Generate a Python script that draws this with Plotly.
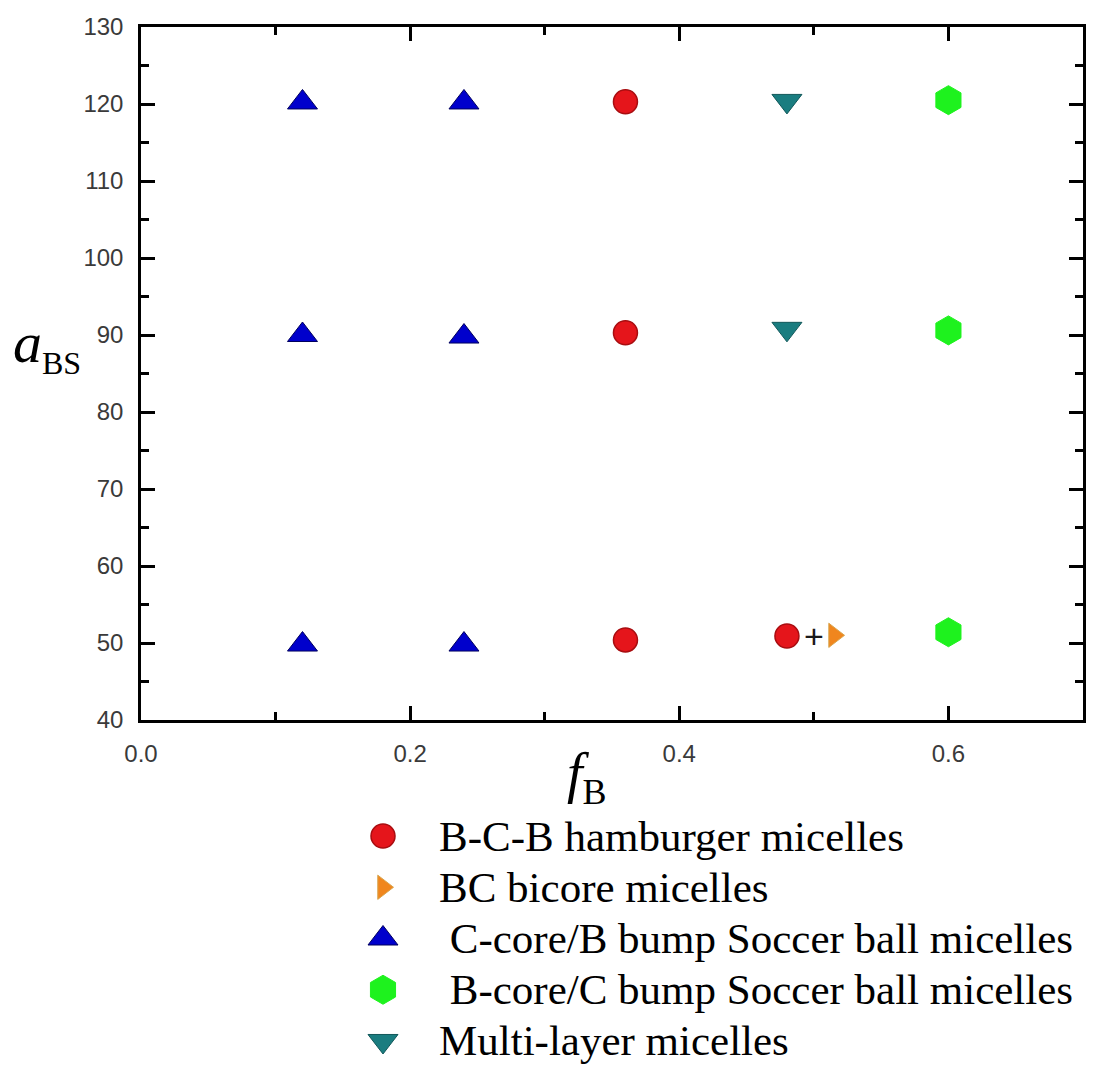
import plotly.graph_objects as go

# Phase points: volume fraction f_B against interaction parameter a_BS
hamburger_x = [0.36, 0.36, 0.36, 0.48]
hamburger_y = [120.3, 90.3, 50.4, 50.9]

bicore_x = [0.515]
bicore_y = [51.0]

ccore_x = [0.12, 0.24, 0.12, 0.24, 0.12, 0.24]
ccore_y = [120.2, 120.2, 90.0, 89.8, 49.8, 49.8]

bcore_x = [0.60, 0.60, 0.60]
bcore_y = [120.5, 90.6, 51.4]

multi_x = [0.48, 0.48]
multi_y = [120.4, 90.8]

# Mixed-phase marker between the hamburger and bicore points
mixed_x = [0.50]
mixed_y = [50.9]

series_names = [
    "B-C-B hamburger micelles",
    "BC bicore micelles",
    "\u00a0C-core/B bump Soccer ball micelles",
    "\u00a0B-core/C bump Soccer ball micelles",
    "Multi-layer micelles",
]

x_tick_vals = [0.0, 0.2, 0.4, 0.6]
x_tick_text = ["0.0", "0.2", "0.4", "0.6"]
y_tick_vals = [40, 50, 60, 70, 80, 90, 100, 110, 120, 130]

markers = [
    dict(symbol="circle", size=24, color="#e5151b", line=dict(color="#a80d10", width=1.5)),
    dict(symbol="triangle-right", size=21, color="#f0861e", line=dict(color="#d9a650", width=1)),
    dict(symbol="triangle-up", size=26, color="#0000cc", line=dict(color="#00005e", width=1)),
    dict(symbol="hexagon", size=29, color="#1ef21e", line=dict(color="#1ef21e", width=1)),
    dict(symbol="triangle-down", size=26, color="#1a7d80", line=dict(color="#12585a", width=1)),
]

series_xy = [
    (hamburger_x, hamburger_y),
    (bicore_x, bicore_y),
    (ccore_x, ccore_y),
    (bcore_x, bcore_y),
    (multi_x, multi_y),
]

W, H = 1107, 1086
serif = "Liberation Serif, Times New Roman, serif"
sans = "Liberation Sans, Arial, sans-serif"

fig = go.Figure()

for (xs, ys), mk, name in zip(series_xy, markers, series_names):
    fig.add_trace(go.Scatter(x=xs, y=ys, mode="markers", marker=mk, name=name,
                             showlegend=False, cliponaxis=False))

# Legend drawn as its own small panel: one row per category
for i, (mk, name) in enumerate(zip(markers, series_names)):
    fig.add_trace(go.Scatter(x=[0], y=[i], mode="markers", marker=mk,
                             xaxis="x2", yaxis="y2", showlegend=False, cliponaxis=False))

annotations = [
    dict(x=mixed_x[0], y=mixed_y[0], xref="x", yref="y", text="+", showarrow=False,
         font=dict(family=sans, size=34, color="#1a1a1a"), xanchor="center", yanchor="middle"),
    dict(x=11 / W, y=88.6, xref="paper", yref="y",
         text='<i>a</i><sub><span style="font-size:32px">BS</span></sub>', showarrow=False,
         font=dict(family=serif, size=58, color="black"), xanchor="left", yanchor="middle"),
    dict(x=565 / W, y=1 - 777 / H, xref="paper", yref="paper",
         text='<i>f</i><sub><span style="font-size:36px">B</span></sub>', showarrow=False,
         font=dict(family=serif, size=56, color="black"), xanchor="left", yanchor="middle"),
]
for i, name in enumerate(series_names):
    annotations.append(dict(x=0.95, y=i, xref="x2", yref="y2", text=name, showarrow=False,
                            font=dict(family=serif, size=43, color="black"),
                            xanchor="left", yanchor="middle"))

axis_common = dict(
    showline=True, linecolor="black", linewidth=2.5, mirror="allticks",
    ticks="inside", ticklen=14, tickwidth=2.5, tickcolor="black",
    showgrid=False, zeroline=False, automargin=False,
    tickfont=dict(family=sans, size=24, color="#3a3a3a"),
)

fig.update_layout(
    width=W, height=H,
    margin=dict(l=0, r=0, t=0, b=0, autoexpand=False),
    paper_bgcolor="white", plot_bgcolor="white",
    showlegend=False,
    xaxis=dict(
        domain=[141 / W, 1083 / W], range=[0, 0.7],
        tickmode="array", tickvals=x_tick_vals, ticktext=x_tick_text,
        minor=dict(dtick=0.1, tick0=0, ticks="inside", ticklen=8, tickwidth=2.5, tickcolor="black"),
        ticklabelstandoff=10,
        **axis_common,
    ),
    yaxis=dict(
        domain=[1 - 720 / H, 1 - 27 / H], range=[40, 130],
        tickmode="array", tickvals=y_tick_vals,
        minor=dict(dtick=5, tick0=0, ticks="inside", ticklen=8, tickwidth=2.5, tickcolor="black"),
        ticklabelstandoff=10,
        **axis_common,
    ),
    xaxis2=dict(domain=[383 / W, 440 / W], range=[0, 1], anchor="y2", visible=False, automargin=False),
    yaxis2=dict(domain=[1 - 1066.6 / H, 1 - 810.4 / H], range=[4.5, -0.5], anchor="x2",
                visible=False, automargin=False),
    annotations=annotations,
)

fig.write_html("out.html")
